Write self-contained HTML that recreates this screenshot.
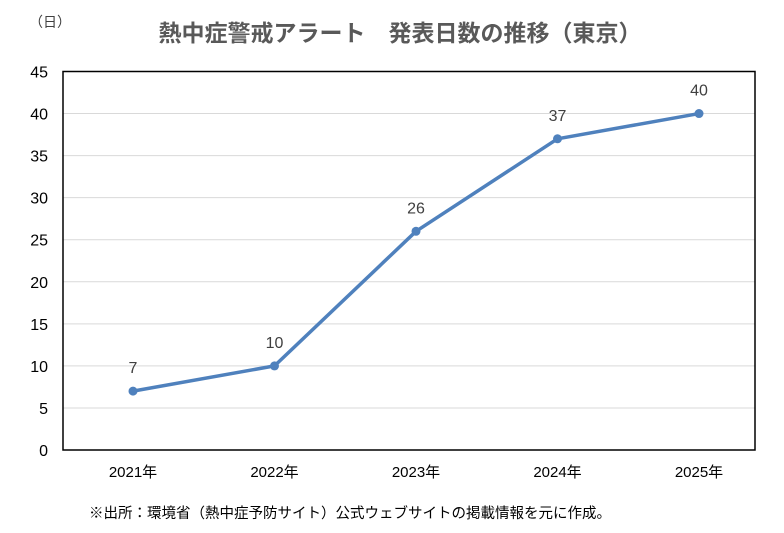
<!DOCTYPE html>
<html><head><meta charset="utf-8"><style>
body{margin:0;background:#fff;}
svg text{font-family:"Liberation Sans","Noto Sans CJK JP",sans-serif;}
</style></head><body>
<svg id="chart" width="784" height="528" xmlns="http://www.w3.org/2000/svg">
<rect width="784" height="528" fill="#fff"/>
<text x="400" y="41" text-anchor="middle" font-size="23" font-weight="bold" fill="#595959">熱中症警戒アラート　発表日数の推移（東京）</text>
<text x="50" y="27" text-anchor="middle" font-size="14" fill="#404040">（日）</text>
<g id="grid"></g>
<rect x="63" y="71.5" width="692" height="378.5" fill="none" stroke="#000" stroke-width="1.5"/>
<g id="series"></g>
<text x="350" y="518" text-anchor="middle" font-size="14.5" fill="#000">※出所：環境省（熱中症予防サイト）公式ウェブサイトの掲載情報を元に作成。</text>
</svg>
<script>
const categories=["2021年","2022年","2023年","2024年","2025年"];
const values=[7,10,26,37,40];
const yTicks=[0,5,10,15,20,25,30,35,40,45];
const NS="http://www.w3.org/2000/svg";
const plotLeft=63,plotRight=755,plotTop=71.5,plotBottom=450,yMax=45;
const xStart=62.25,band=141.5;
function yScale(v){return plotBottom-(v/yMax)*(plotBottom-plotTop);}
function xScale(i){return xStart+band*(i+0.5);}
function mk(t,a,p){const e=document.createElementNS(NS,t);for(const k in a)e.setAttribute(k,a[k]);p.appendChild(e);return e;}
const grid=document.getElementById('grid'),ser=document.getElementById('series');
yTicks.forEach(t=>{
  if(t>0&&t<yMax){const l=mk('line',{x1:plotLeft,x2:plotRight,y1:yScale(t),y2:yScale(t),stroke:'#d9d9d9','stroke-width':1},grid);
  
  }
  const tx=mk('text',{x:48,y:yScale(t)+6,'text-anchor':'end','font-size':16,fill:'#000'},grid);tx.textContent=t;
  
  
});
categories.forEach((c,i)=>{
  const tx=mk('text',{x:xScale(i),y:477,'text-anchor':'middle','font-size':15,fill:'#000'},grid);tx.textContent=c;
  
  
});
const pl=mk('polyline',{points:values.map((v,i)=>xScale(i)+','+yScale(v)).join(' '),fill:'none',stroke:'#4f81bd','stroke-width':3.5,'stroke-linejoin':'round'},ser);


values.forEach((v,i)=>{
  const c=mk('circle',{cx:xScale(i),cy:yScale(v),r:4.5,fill:'#4f81bd'},ser);
  
  
  const t=mk('text',{x:xScale(i),y:yScale(v)-18,'text-anchor':'middle','font-size':16,fill:'#404040'},ser);t.textContent=v;
  
  
});
</script>
</body></html>
